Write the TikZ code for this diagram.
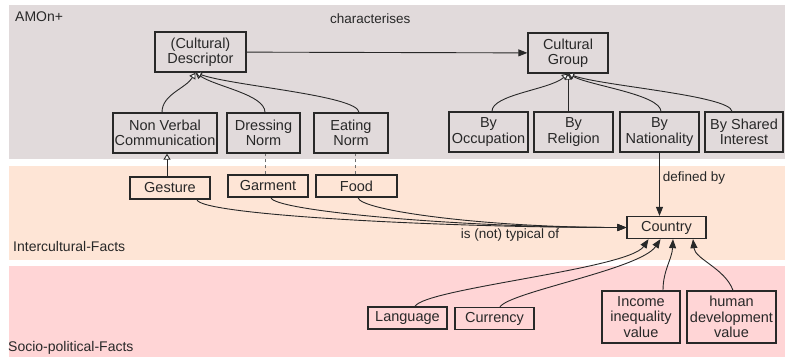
\documentclass[tikz,border=0pt]{standalone}
\usepackage{fontspec}
\setmainfont{Liberation Sans}
\usepackage{tikz}
\usetikzlibrary{arrows.meta}
\definecolor{amGray}{RGB}{225,218,219}
\definecolor{amOrange}{RGB}{254,229,214}
\definecolor{amPink}{RGB}{255,213,214}
\definecolor{amLine}{RGB}{40,40,40}
\definecolor{amDash}{RGB}{110,110,110}
\tikzset{
    base/.style={font=\fontsize{14.5}{15.5}\selectfont, align=center, text=amLine},
    cls/.style={base, rectangle, draw=amLine, line width=1.3pt, inner sep=1.5pt, minimum height=40pt},
    inst/.style={base, rectangle, draw=amLine, line width=1.3pt, inner sep=1.5pt, minimum height=22pt},
    value/.style={base, rectangle, draw=amLine, line width=1.3pt, inner sep=1.5pt, minimum height=52pt},
    isa/.style={-{Triangle[length=6pt,width=7pt,fill=white]}, line width=0.9pt, color=amLine},
    rel/.style={-{Triangle[length=9pt,width=7pt]}, line width=0.9pt, color=amLine},
    typeof/.style={dashed, line width=0.9pt, color=amDash},
    lbl/.style={font=\fontsize{13.5}{15}\selectfont, text=amLine, inner sep=0pt},
    band/.style={font=\fontsize{14}{15}\selectfont, text=amLine, anchor=west, inner sep=0pt}
}
\begin{document}
\begin{tikzpicture}[x=1pt,y=1pt]
  \useasboundingbox (0,0) rectangle (785,-357);

  % Bands
  \fill[amGray] (9,-5) rectangle (785,-159);
  \fill[amOrange] (9,-166) rectangle (785,-260);
  \fill[amPink] (9,-266) rectangle (785,-357);
  \node[band] (amon) at (15,-17) {AMOn+};
  \node[band] (inter) at (13,-246) {Intercultural-Facts};
  \node[band] (socio) at (8,-348) {Socio-political-Facts};

  % AMOn+ classes
  \node[cls, minimum width=91pt] (desc) at (200.5,-52) {(Cultural)\\Descriptor};
  \node[cls, minimum width=80pt] (group) at (568,-53) {Cultural\\Group};
  \node[cls, minimum width=104pt] (nvc) at (165,-133) {Non Verbal\\Communication};
  \node[cls, minimum width=73pt] (dress) at (263.5,-133) {Dressing\\Norm};
  \node[cls, minimum width=74pt] (eat) at (351,-133) {Eating\\Norm};
  \node[cls, minimum width=79pt] (occ) at (488.5,-132) {By\\Occupation};
  \node[cls, minimum width=79pt] (relig) at (573.5,-132) {By\\Religion};
  \node[cls, minimum width=79pt] (nat) at (659.5,-132) {By\\Nationality};
  \node[cls, minimum width=78pt] (shared) at (744,-132) {By Shared\\Interest};

  % Intercultural facts
  \node[inst, minimum width=80pt] (gesture) at (170,-188) {Gesture};
  \node[inst, minimum width=80pt] (garment) at (268,-186) {Garment};
  \node[inst, minimum width=81pt] (food) at (356.5,-186) {Food};
  \node[inst, minimum width=79pt] (country) at (666.5,-227.5) {Country};

  % Socio-political facts
  \node[inst, minimum width=79pt] (lang) at (407.5,-318) {Language};
  \node[inst, minimum width=79pt] (curr) at (494.5,-318.5) {Currency};
  \node[value, minimum width=78pt] (income) at (641,-317) {Income\\inequality\\value};
  \node[value, minimum width=89pt] (human) at (731.5,-317) {human\\development\\value};

  % Hierarchy
  \draw[rel] (desc) -- (group) node[lbl, pos=0.44, above=28pt] {characterises};
  \draw[isa] ([xshift=-3pt]nvc.north) .. controls +(0,18) and +(-10,-16) .. ([xshift=-5pt]desc.south);
  \draw[isa] ([xshift=1.5pt]dress.north) .. controls +(0,18) and +(20,-14) .. ([xshift=-5pt]desc.south);
  \draw[isa] ([xshift=8pt]eat.north) .. controls +(-1,17) and +(35,-13) .. ([xshift=-5pt]desc.south);
  \draw[isa] ([xshift=3.5pt]occ.north) .. controls +(0,17) and +(-18,-16) .. (group.south);
  \draw[isa] (group.south |- relig.north) -- (group.south);
  \draw[isa] ([xshift=1.5pt]nat.north) .. controls +(-1,17) and +(22,-12) .. (group.south);
  \draw[isa] ([xshift=-12pt]shared.north) .. controls +(-2,16) and +(32,-12) .. (group.south);

  % Facts
  \draw[isa] ([xshift=-3pt]gesture.north) -- ([xshift=-3pt]gesture.north |- nvc.south);
  \draw[typeof] ([xshift=-3pt]garment.north) -- ([xshift=-3pt]garment.north |- dress.south);
  \draw[typeof] ([xshift=-1.5pt]food.north) -- ([xshift=-1.5pt]food.north |- eat.south);
  \draw[rel] (nat.south) -- (nat.south |- country.north) node[lbl, pos=0.4, right=3pt] {defined by};
  \draw[rel] ([xshift=27pt]gesture.south) .. controls +(2,-15) and +(-190,0) .. (country.west);
  \draw[rel] ([xshift=3pt]garment.south) .. controls +(2,-13) and +(-170,0) .. (country.west);
  \draw[rel] ([xshift=1.5pt]food.south) .. controls +(2,-13) and +(-140,0) .. (country.west);
  \node[lbl] (typical) at (510,-235) {is (not) typical of};
  \draw[rel] ([xshift=7.5pt]lang.north) .. controls +(10,18) and +(-20,-30) .. ([xshift=-18pt]country.south);
  \draw[rel] ([xshift=5.5pt]curr.north) .. controls +(10,15) and +(-20,-30) .. ([xshift=-6pt]country.south);
  \draw[rel] ([xshift=22pt]income.north) .. controls +(0,20) and +(-1,-20) .. ([xshift=6.5pt]country.south);
  \draw[rel] ([xshift=1.5pt]human.north) .. controls +(-8,22) and +(2,-20) .. ([xshift=26.5pt]country.south);
\end{tikzpicture}
\end{document}
